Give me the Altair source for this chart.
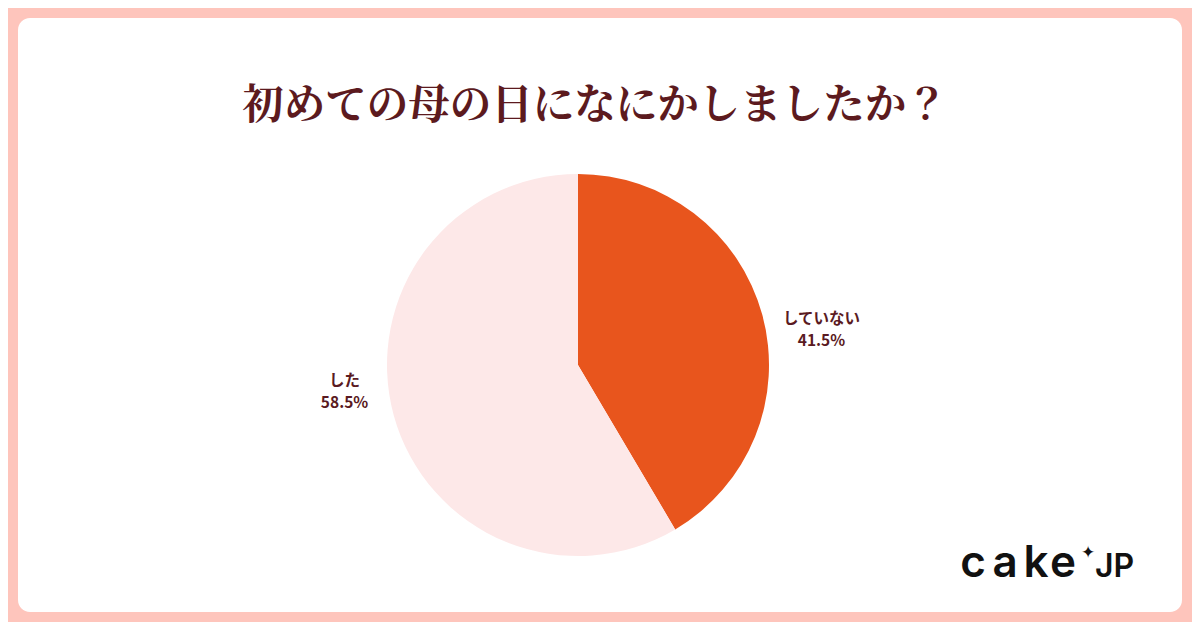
import altair as alt
import pandas as pd

# data
labels = ["していない", "した"]
values = [41.5, 58.5]
pct_text = ["41.5%", "58.5%"]
order_idx = [0, 1]
colors = ["#E8551D", "#FDE8E8"]

title_text = "初めての母の日になにかしましたか？"
logo_letters = ["c", "a", "k", "e"]

df = pd.DataFrame({"label": labels, "value": values, "pct": pct_text, "idx": order_idx})
one = pd.DataFrame({"a": [0]})

W, H = 1184, 614
CX, CY = 570, 357
TAU = 6.283185

card = alt.Chart(one).mark_rect(color="#FFFFFF", cornerRadius=12).encode(
    x=alt.value(10), x2=alt.value(1174), y=alt.value(10), y2=alt.value(604)
)

pie = alt.Chart(df).mark_arc(outerRadius=191).encode(
    theta=alt.Theta("value:Q", stack=True, scale=alt.Scale(domain=[0, 100])),
    color=alt.Color("label:N", scale=alt.Scale(domain=labels, range=colors), legend=None),
    order=alt.Order("idx:Q"),
    x=alt.value(CX), y=alt.value(CY),
)

base_lbl = alt.Chart(df).transform_window(
    cum="sum(value)", sort=[alt.SortField("idx")]
).transform_calculate(
    mid="datum.cum - datum.value / 2",
)


def label_layers(name, radius, offset):
    out = []
    for field, dy in (("label", -11), ("pct", 11.5)):
        out.append(
            base_lbl.transform_filter(alt.datum.label == name).mark_text(
                radius=radius, font="Noto Sans CJK JP", fontWeight="bold", fontSize=15.5,
                color="#5A1A22", align="center", baseline="middle", dy=dy
            ).encode(
                theta=alt.Theta("mid:Q", scale=alt.Scale(domain=[0, 100],
                                                         range=[offset, TAU + offset])),
                text=alt.Text(f"{field}:N"),
                x=alt.value(CX), y=alt.value(CY),
            )
        )
    return out


lbls = label_layers(labels[0], 246, 0.124) + label_layers(labels[1], 235, 0.152)

title = alt.Chart(one).mark_text(
    font="Noto Serif CJK JP, Noto Sans CJK JP", fontWeight="bold", fontSize=41.5,
    color="#5C1A1E", align="center", baseline="middle"
).encode(x=alt.value(587), y=alt.value(99), text=alt.value(title_text))

letter_x = [965, 997, 1028, 1055]
logo_layers = [
    alt.Chart(one).mark_text(
        font="Inter", fontWeight=600, fontSize=44, color="#111111",
        align="center", baseline="alphabetic"
    ).encode(x=alt.value(lx), y=alt.value(569), text=alt.value(ch))
    for ch, lx in zip(logo_letters, letter_x)
]

logo_star = alt.Chart(one).mark_text(
    font="DejaVu Sans", fontSize=17, color="#111111", align="center", baseline="middle"
).encode(x=alt.value(1080), y=alt.value(545), text=alt.value("✦"))

logo_jp = alt.Chart(one).mark_text(
    font="Inter", fontWeight=600, fontSize=32, color="#111111",
    align="left", baseline="alphabetic"
).encode(x=alt.value(1087), y=alt.value(569), text=alt.value("JP"))

chart = alt.layer(card, pie, *lbls, title, *logo_layers, logo_star, logo_jp).resolve_scale(
    theta="independent"
).properties(
    width=W, height=H, background="#FEC5BC", padding=0,
    autosize=alt.AutoSizeParams(type="none")
).configure_view(stroke=None)

chart.save("out.html", embed_options={"renderer": "svg", "actions": False})
